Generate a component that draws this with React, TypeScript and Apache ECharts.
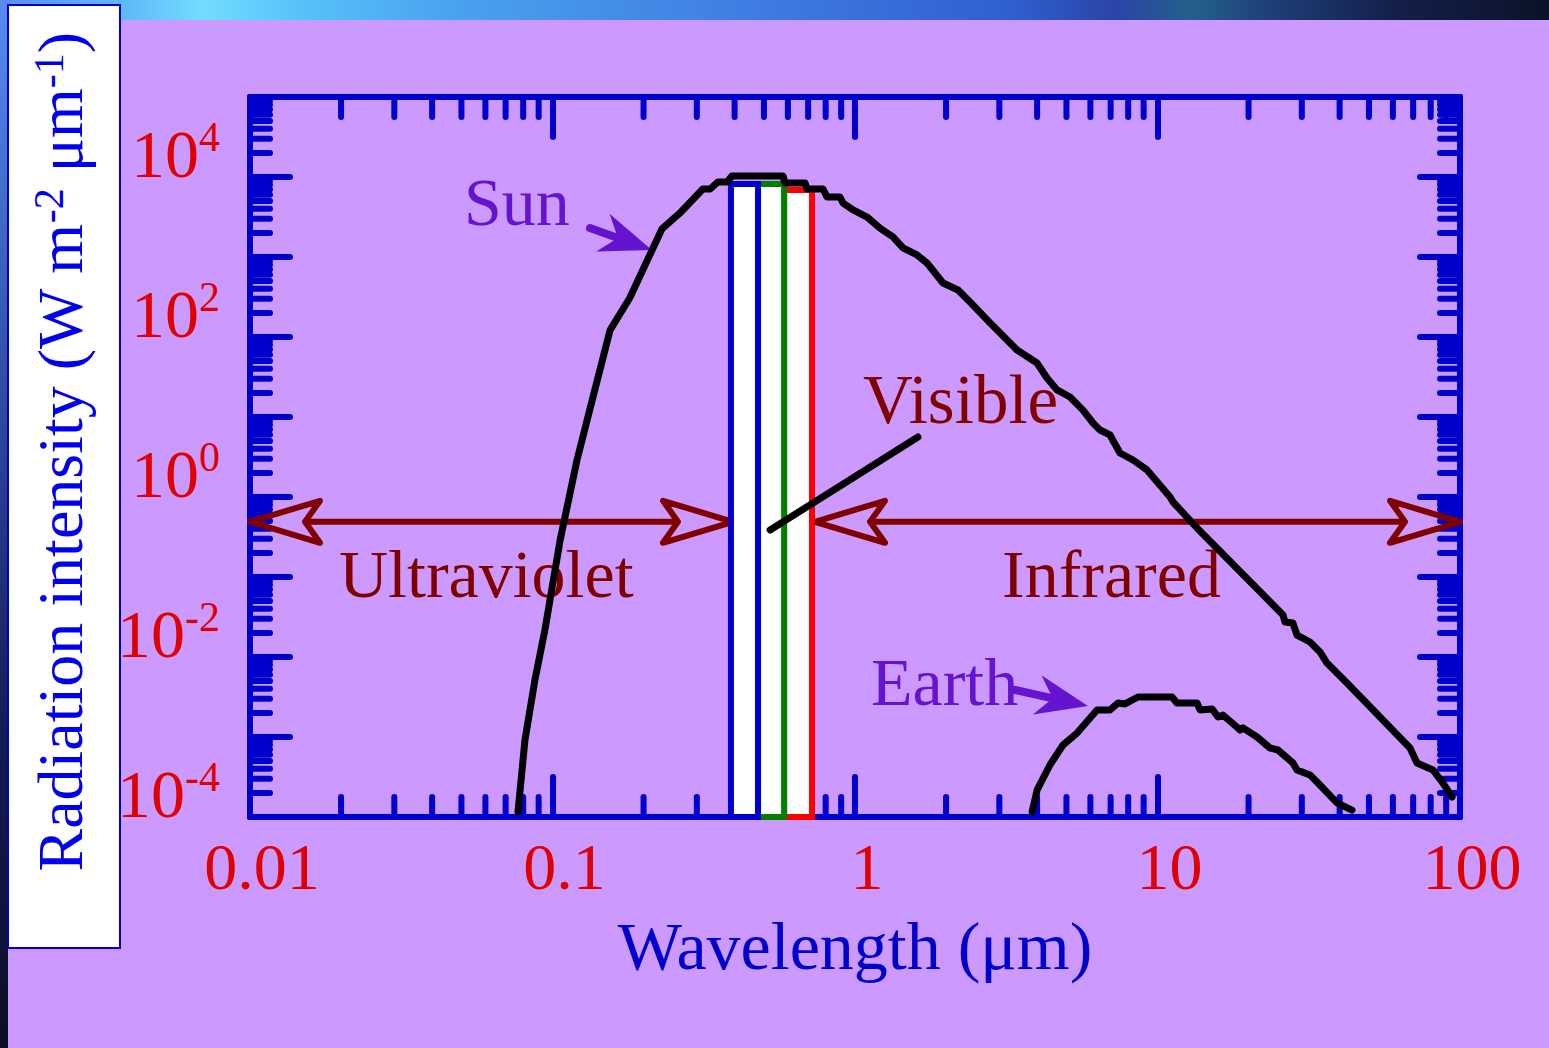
import React, { useEffect, useRef } from 'react';
import * as echarts from 'echarts';

// ---------------- data ----------------
const xTickLabels = ['0.01', '0.1', '1', '10', '100'];
const yTickExponents = ['-4', '', '-2', '', '0', '', '2', '', '4', ''];
const minorMultipliers = [2, 3, 4, 5, 6, 7, 8, 9];
const xDecades = [0.01, 0.1, 1, 10];
const yDecades = [1e-4, 1e-3, 1e-2, 1e-1, 1, 10, 100, 1000, 10000];

const sunWavelength = [
  0.0769, 0.0811, 0.0875, 0.0944, 0.106, 0.1205, 0.138, 0.155, 0.18, 0.23, 0.264, 0.314, 0.332, 0.352,
  0.378, 0.392, 0.578, 0.587, 0.684, 0.694, 0.784, 0.808, 0.892, 0.913, 0.985, 1.096, 1.209, 1.335,
  1.441, 1.603, 1.73, 1.954, 2.191, 2.4, 2.795, 3.432, 3.997, 4.312, 4.655, 5.137, 5.671, 6.121, 6.455,
  6.966, 7.516, 8.299, 9.233, 11.0, 11.25, 13.51, 26.0, 26.39, 28.04, 28.92, 31.92, 34.45, 36.33,
  42.31, 68.35, 72.1, 81.4, 87.8, 94.1,
];
const sunIntensity = [
  1.16e-4, 9.2e-4, 5.2e-3, 0.0218, 0.29, 2.9, 21.8, 122, 307, 2240, 3550, 7080, 7080, 8660,
  8660, 10300, 10300, 8410, 8410, 7080, 7080, 5620, 5620, 4730, 3870, 3160, 2300, 1780,
  1300, 1060, 841, 473, 387, 274, 150, 68.8, 47.3, 30.7, 21.8, 17.8, 12.2, 8.41, 6.88,
  5.96, 3.55, 2.9, 2.18, 1.0, 0.866, 0.41, 0.0335, 0.0274, 0.0266, 0.0188, 0.0154, 0.01155, 8.41e-3,
  4.73e-3, 7.29e-4, 4.73e-4, 3.87e-4, 2.66e-4, 1.78e-4,
];

const earthWavelength = [
  3.85, 4.0, 4.41, 4.87, 5.42, 6.31, 6.97, 7.4, 7.81, 8.62, 11.17, 11.6, 13.51, 13.82, 15.14,
  15.85, 16.46, 18.31, 18.73, 19.17, 21.33, 23.54, 25.02, 28.04, 28.92, 31.92, 33.68, 39.22, 43.95,
];
const earthIntensity = [
  1.16e-4, 2.18e-4, 4.47e-4, 7.94e-4, 1.12e-3, 2.18e-3, 2.18e-3, 2.66e-3, 2.59e-3, 3.16e-3, 3.16e-3,
  2.66e-3, 2.66e-3, 2.18e-3, 2.24e-3, 1.78e-3, 1.88e-3, 1.33e-3, 1.22e-3, 1.3e-3, 1.0e-3, 7.29e-4,
  6.88e-4, 4.73e-4, 3.87e-4, 3.35e-4, 2.74e-4, 1.5e-4, 1.22e-4,
];

// visible bands (blue, green, red)
const bandStart = [0.389, 0.478, 0.583];
const bandEnd = [0.478, 0.583, 0.721];
const bandTop = [8200, 8200, 6900];

// spectral ranges with double arrows
const rangeStart = [0.01, 0.7375];
const rangeEnd = [0.395, 100];
const rangeLevel = [0.49, 0.49];

// "Visible" pointer line
const pointerWavelength = [0.524, 1.615];
const pointerIntensity = [0.387, 5.62];

// callout arrows (Sun, Earth)
const calloutFromX = [0.133, 3.38];
const calloutFromY = [2300, 3.87e-3];
const calloutToX = [0.213, 5.89];
const calloutToY = [1220, 2.44e-3];

// ---------------- styles ----------------
const FONT = '"Liberation Serif", "Times New Roman", serif';
const AXIS_BLUE = '#0000CC';
const TICK_RED = '#E00000';
const DARK_RED = '#800000';
const PURPLE = '#6414CE';
const bandColors = ['#0000CC', '#008000', '#FF0000'];
const Y_MIN = 1e-4;
const Y_MAX = 1e5;
const X_MIN = 0.01;
const X_MAX = 100;

const xMinorTicks: number[] = [];
xDecades.forEach((d) => minorMultipliers.forEach((m) => xMinorTicks.push(d * m)));
const yMinorTicks: number[] = [];
yDecades.forEach((d) => minorMultipliers.forEach((m) => yMinorTicks.push(d * m)));

const tickLine = { color: AXIS_BLUE, width: 6, cap: 'round' };

function buildOption() {
  const axisCommonX = {
    type: 'log',
    logBase: 10,
    min: X_MIN,
    max: X_MAX,
    splitLine: { show: false },
    axisLine: { show: true, onZero: false, lineStyle: { color: AXIS_BLUE, width: 6, cap: 'round' } },
    axisTick: { show: true, inside: true, length: 40, lineStyle: tickLine },
    minorTick: { show: false },
  };
  const axisCommonY = {
    type: 'log',
    logBase: 10,
    min: Y_MIN,
    max: Y_MAX,
    splitLine: { show: false },
    axisLine: { show: true, onZero: false, lineStyle: { color: AXIS_BLUE, width: 6, cap: 'round' } },
    axisTick: { show: true, inside: true, length: 40, lineStyle: tickLine },
    minorTick: { show: false },
  };

  const tickStyle = { stroke: AXIS_BLUE, lineWidth: 6, lineCap: 'round' };

  return {
    animation: false,
    backgroundColor: 'transparent',
    grid: { left: 250, top: 97, width: 1210, height: 720, containLabel: false },
    xAxis: [
      {
        ...axisCommonX,
        position: 'bottom',
        axisLabel: {
          show: true,
          margin: 16,
          padding: [0, 0, 0, 24],
          color: TICK_RED,
          fontFamily: FONT,
          fontSize: 66,
          formatter: (v: number) => xTickLabels[Math.round(Math.log10(v)) + 2] ?? '',
        },
        name: 'Wavelength (μm)',
        nameLocation: 'middle',
        nameGap: 95,
        nameTextStyle: { color: AXIS_BLUE, fontFamily: FONT, fontSize: 68 },
      },
      { ...axisCommonX, position: 'top', axisLabel: { show: false } },
    ],
    yAxis: [
      {
        ...axisCommonY,
        position: 'left',
        axisLabel: {
          show: true,
          margin: 30,
          padding: [0, 0, 55, 0],
          formatter: (v: number) => {
            const e = yTickExponents[Math.round(Math.log10(v)) + 4];
            return e ? `{b|10}{s|${e}}` : '';
          },
          rich: {
            b: { fontSize: 68, lineHeight: 68, padding: [9, 0, 0, 0], fontFamily: FONT, color: TICK_RED },
            s: { fontSize: 42, lineHeight: 42, verticalAlign: 'top', fontFamily: FONT, color: TICK_RED },
          },
        },
      },
      { ...axisCommonY, position: 'right', axisLabel: { show: false } },
    ],
    graphic: [
      {
        type: 'rect',
        shape: { x: 8, y: 5, width: 112, height: 943 },
        style: { fill: '#FFFFFF', stroke: AXIS_BLUE, lineWidth: 2 },
      },
      {
        type: 'text',
        x: 60,
        y: 452,
        rotation: Math.PI / 2,
        style: {
          text: '{b|Radiation intensity (W m}{s|-2}{b| μm}{s|-1}{b|)}',
          align: 'center',
          verticalAlign: 'middle',
          fill: '#0000EE',
          rich: {
            b: { fontSize: 64, lineHeight: 64, fontFamily: FONT, fill: '#0000EE' },
            s: { fontSize: 42, lineHeight: 42, verticalAlign: 'top', fontFamily: FONT, fill: '#0000EE' },
          },
        },
      },
      {
        type: 'text', x: 464, y: 202,
        style: { text: 'Sun', fill: PURPLE, fontSize: 68, fontFamily: FONT, verticalAlign: 'middle' },
      },
      {
        type: 'text', x: 863, y: 400,
        style: { text: 'Visible', fill: DARK_RED, fontSize: 69, fontFamily: FONT, verticalAlign: 'middle' },
      },
      {
        type: 'text', x: 339, y: 574,
        style: { text: 'Ultraviolet', fill: DARK_RED, fontSize: 68, fontFamily: FONT, verticalAlign: 'middle' },
      },
      {
        type: 'text', x: 1002, y: 574,
        style: { text: 'Infrared', fill: DARK_RED, fontSize: 68, fontFamily: FONT, verticalAlign: 'middle' },
      },
      {
        type: 'text', x: 871, y: 682,
        style: { text: 'Earth', fill: PURPLE, fontSize: 68, fontFamily: FONT, verticalAlign: 'middle' },
      },
    ],
    series: [
      {
        type: 'custom',
        name: 'xMinorTicks',
        clip: false,
        silent: true,
        data: xMinorTicks.map((v) => [v, 1]),
        renderItem: (params: any, api: any) => {
          const x = api.coord([api.value(0), 1])[0];
          const cs = params.coordSys;
          const bottom = cs.y + cs.height;
          const top = cs.y;
          return {
            type: 'group',
            children: [
              { type: 'line', shape: { x1: x, y1: bottom, x2: x, y2: bottom - 20 }, style: tickStyle },
              { type: 'line', shape: { x1: x, y1: top, x2: x, y2: top + 20 }, style: tickStyle },
            ],
          };
        },
      },
      {
        type: 'custom',
        name: 'yMinorTicks',
        clip: false,
        silent: true,
        data: yMinorTicks.map((v) => [1, v]),
        renderItem: (params: any, api: any) => {
          const y = api.coord([1, api.value(1)])[1];
          const cs = params.coordSys;
          const left = cs.x;
          const right = cs.x + cs.width;
          return {
            type: 'group',
            children: [
              { type: 'line', shape: { x1: left, y1: y, x2: left + 20, y2: y }, style: tickStyle },
              { type: 'line', shape: { x1: right, y1: y, x2: right - 20, y2: y }, style: tickStyle },
            ],
          };
        },
      },
      {
        type: 'custom',
        name: 'Ranges',
        clip: false,
        silent: true,
        encode: { x: [0, 1], y: 2 },
        data: rangeStart.map((s, i) => [s, rangeEnd[i], rangeLevel[i]]),
        renderItem: (params: any, api: any) => {
          const a = api.coord([api.value(0), api.value(2)]);
          const b = api.coord([api.value(1), api.value(2)]);
          const L = 70, W = 21, N = 55;
          const y = a[1];
          const st = { stroke: DARK_RED, lineWidth: 6, fill: 'none', lineJoin: 'round' };
          return {
            type: 'group',
            children: [
              { type: 'line', shape: { x1: a[0] + N, y1: y, x2: b[0] - N, y2: y }, style: { stroke: DARK_RED, lineWidth: 6 } },
              {
                type: 'polygon',
                shape: { points: [[a[0], y], [a[0] + L, y - W], [a[0] + N, y], [a[0] + L, y + W]] },
                style: st,
              },
              {
                type: 'polygon',
                shape: { points: [[b[0], y], [b[0] - L, y - W], [b[0] - N, y], [b[0] - L, y + W]] },
                style: st,
              },
            ],
          };
        },
      },
      {
        type: 'custom',
        name: 'Visible bands',
        clip: false,
        silent: true,
        encode: { x: [0, 1], y: 2 },
        data: [2, 1, 0].map((i) => [bandStart[i], bandEnd[i], bandTop[i], i]),
        renderItem: (params: any, api: any) => {
          const p0 = api.coord([api.value(0), Y_MIN]);
          const p1 = api.coord([api.value(1), api.value(2)]);
          return {
            type: 'rect',
            shape: { x: p0[0], y: p1[1], width: p1[0] - p0[0], height: p0[1] - p1[1] },
            style: { fill: '#FFFFFF', stroke: bandColors[api.value(3)], lineWidth: 6 },
          };
        },
      },
      {
        type: 'line',
        name: 'Visible pointer',
        showSymbol: false,
        silent: true,
        data: pointerWavelength.map((x, i) => [x, pointerIntensity[i]]),
        lineStyle: { color: '#000000', width: 7, cap: 'round' },
      },
      {
        type: 'line',
        name: 'Sun',
        showSymbol: false,
        silent: true,
        clip: false,
        data: sunWavelength.map((x, i) => [x, sunIntensity[i]]),
        lineStyle: { color: '#000000', width: 7, join: 'round', cap: 'round' },
      },
      {
        type: 'line',
        name: 'Earth',
        showSymbol: false,
        silent: true,
        clip: false,
        data: earthWavelength.map((x, i) => [x, earthIntensity[i]]),
        lineStyle: { color: '#000000', width: 7, join: 'round', cap: 'round' },
      },
      {
        type: 'custom',
        name: 'Callouts',
        clip: false,
        silent: true,
        encode: { x: [0, 2], y: [1, 3] },
        data: calloutFromX.map((x, i) => [x, calloutFromY[i], calloutToX[i], calloutToY[i]]),
        renderItem: (params: any, api: any) => {
          const a = api.coord([api.value(0), api.value(1)]);
          const b = api.coord([api.value(2), api.value(3)]);
          const dx = b[0] - a[0];
          const dy = b[1] - a[1];
          const len = Math.hypot(dx, dy);
          const ux = dx / len, uy = dy / len;
          const px = -uy, py = ux;
          const L = 52, W = 20, N = 36;
          const back = [b[0] - ux * L, b[1] - uy * L];
          const notch = [b[0] - ux * N, b[1] - uy * N];
          return {
            type: 'group',
            children: [
              {
                type: 'line',
                shape: { x1: a[0], y1: a[1], x2: notch[0], y2: notch[1] },
                style: { stroke: PURPLE, lineWidth: 8, lineCap: 'round' },
              },
              {
                type: 'polygon',
                shape: {
                  points: [
                    [b[0], b[1]],
                    [back[0] + px * W, back[1] + py * W],
                    notch,
                    [back[0] - px * W, back[1] - py * W],
                  ],
                },
                style: { fill: PURPLE },
              },
            ],
          };
        },
      },
    ],
  };
}

export default function App() {
  const ref = useRef<HTMLDivElement>(null);
  useEffect(() => {
    if (!ref.current) return;
    const chart = echarts.init(ref.current, undefined, { renderer: 'svg' });
    chart.setOption(buildOption() as any);
    return () => chart.dispose();
  }, []);
  return (
    <div
      style={{
        position: 'fixed',
        left: 0,
        top: 0,
        width: 1549,
        height: 1048,
        background: '#CC99FF',
        overflow: 'hidden',
      }}
    >
      <div
        style={{
          position: 'absolute',
          left: 0,
          top: 0,
          width: 1549,
          height: 20,
          background:
            'linear-gradient(to right, #5a8cf0 0%, #5fb8f8 8%, #72dcff 13%, #55c0f8 20%, #4aa0f0 30%, #3d7ae0 50%, #3060d0 65%, #2a45a8 72%, #24608a 77%, #1e3f78 82%, #141f4a 90%, #0a1228 100%)',
        }}
      />
      <div
        style={{
          position: 'absolute',
          left: 0,
          top: 0,
          width: 8,
          height: 1048,
          background: 'linear-gradient(to bottom, #5a8cf0 0%, #4a78d8 12%, #2a3f90 45%, #141c50 70%, #0a0f25 100%)',
        }}
      />
      <div ref={ref} style={{ position: 'absolute', left: 0, top: 0, width: 1549, height: 1048 }} />
    </div>
  );
}
